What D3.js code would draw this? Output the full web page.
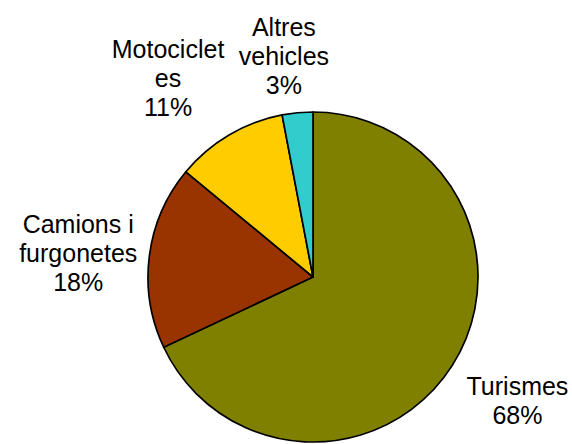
<!doctype html>
<html>
<head>
<meta charset="utf-8">
<style>
    body { margin: 0; background: #fff; }
    text { font-family: "Liberation Sans", Arial, sans-serif; font-size: 25px; fill: #000; }
</style>
<script src="https://d3js.org/d3.v7.min.js"></script>
</head>
<body>
<svg width="572" height="444"></svg>
<script>
    // values (percent)
    var categories = ["Turismes", "Camions i furgonetes", "Motocicletes", "Altres vehicles"];
    var values = [68, 18, 11, 3];
    var labelLines = [
        ["Turismes"],
        ["Camions i", "furgonetes"],
        ["Motociclet", "es"],
        ["Altres", "vehicles"]
    ];
    var colors = ["#808000", "#993300", "#ffcc00", "#33cccc"];

    var svg = d3.select("svg"),
        cx = 313,
        cy = 277,
        radius = 165,
        lineH = 29;

    // label distance from the centre and small angle nudge (degrees), one per slice
    var labelR = [239, 236, 246, 223];
    var labelNudge = [-1.2, -1.4, -5.5, -2.1];

    var g = svg.append("g")
               .attr("transform", "translate(" + cx + "," + cy + ")");

    var pie = d3.pie().sort(null).value(function(d) { return d; });
    var arcs = pie(values);
    var arc = d3.arc().innerRadius(0).outerRadius(radius);

    g.selectAll(".slice")
     .data(arcs)
     .enter().append("path")
     .attr("class", "slice")
     .attr("d", arc)
     .attr("fill", function(d, i) { return colors[i]; })
     .attr("stroke", "#000")
     .attr("stroke-width", 1.7)
     .attr("stroke-linejoin", "round");

    var total = d3.sum(values);

    var labels = g.selectAll(".lab")
     .data(arcs)
     .enter().append("text")
     .attr("class", "lab")
     .attr("text-anchor", "middle")
     .attr("transform", function(d, i) {
         var a = (d.startAngle + d.endAngle) / 2 + labelNudge[i] * Math.PI / 180;
         var x = Math.sin(a) * labelR[i],
             y = -Math.cos(a) * labelR[i];
         return "translate(" + x + "," + y + ")";
     });

    labels.each(function(d, i) {
        var lines = labelLines[i].concat([Math.round(d.data / total * 100) + "%"]);
        var t = d3.select(this);
        var top = -(lines.length - 1) * lineH / 2 + 9;
        lines.forEach(function(s, k) {
            t.append("tspan").attr("x", 0).attr("y", top + k * lineH).text(s);
        });
    });
</script>
</body>
</html>
